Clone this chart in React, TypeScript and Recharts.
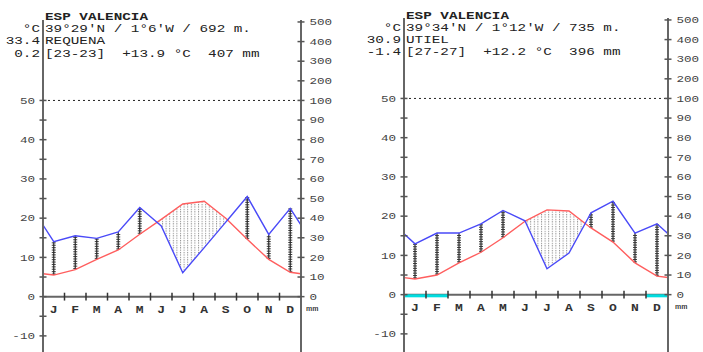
import React from 'react';
import { ComposedChart, Line, Area, XAxis, YAxis, ReferenceLine, Scatter } from 'recharts';

const months = ['J', 'F', 'M', 'A', 'M', 'J', 'J', 'A', 'S', 'O', 'N', 'D'];
const monthBounds = [1, 2, 3, 4, 5, 6, 7, 8, 9, 10, 11];

const requenaTemp = [5.5, 6.9, 9.5, 11.9, 15.9, 19.7, 23.6, 24.3, 20.0, 14.6, 9.5, 6.2];
const requenaPrec = [28, 31, 29.7, 33, 45.4, 36, 12.2, 25, 38, 51, 31.7, 45];
const requenaFrost = [0, 0, 0, 0, 0, 0, 0, 0, 0, 0, 0, 0];
const requenaInfo = ['ESP VALENCIA', "39°29'N / 1°6'W / 692 m.", 'REQUENA', '[23-23]', '+13.9 °C', '407 mm'];
const requenaExtremes = ['°C', '33.4', '0.2'];

const utielTemp = [4.0, 5.0, 8.1, 10.8, 14.5, 18.7, 21.6, 21.3, 17.0, 13.4, 8.1, 4.7];
const utielPrec = [25.9, 31.4, 31.4, 36.1, 42.9, 37.6, 13.2, 21.2, 41.7, 47.6, 31.4, 36.1];
const utielFrost = [1, 1, 0, 0, 0, 0, 0, 0, 0, 0, 0, 1];
const utielInfo = ['ESP VALENCIA', "39°34'N / 1°12'W / 735 m.", 'UTIEL', '[27-27]', '+12.2 °C', '396 mm'];
const utielExtremes = ['°C', '30.9', '-1.4'];

const tempTicks = [-10, -5, 0, 5, 10, 15, 20, 25, 30, 35, 40, 45, 50];
const precTicksMm = [0, 10, 20, 30, 40, 50, 60, 70, 80, 90, 100, 200, 300, 400, 500];

const Y_DOMAIN: [number, number] = [-15, 70.5];

const mmToC = (mm: number) => (mm <= 100 ? mm / 2 : 50 + (mm - 100) / 20);
const cToMm = (c: number) => Math.round(c <= 50 ? c * 2 : 100 + (c - 50) * 20);

function buildSeries(temp: number[], prec: number[]) {
  const pc = prec.map(mmToC);
  const edgeT = (temp[11] + temp[0]) / 2;
  const edgeP = (pc[11] + pc[0]) / 2;
  const pts: { x: number; t: number; p: number }[] = [{ x: 0, t: edgeT, p: edgeP }];
  temp.forEach((t, i) => pts.push({ x: i + 0.5, t, p: pc[i] }));
  pts.push({ x: 12, t: edgeT, p: edgeP });
  const out: { x: number; t: number; p: number }[] = [];
  for (let i = 0; i < pts.length; i++) {
    out.push(pts[i]);
    if (i < pts.length - 1) {
      const a = pts[i];
      const b = pts[i + 1];
      const d1 = a.t - a.p;
      const d2 = b.t - b.p;
      if (d1 * d2 < 0) {
        const f = d1 / (d1 - d2);
        const xc = a.x + (b.x - a.x) * f;
        const vc = a.t + (b.t - a.t) * f;
        out.push({ x: xc, t: vc, p: vc });
      }
    }
  }
  return out.map((o) => ({ ...o, dry: o.t > o.p ? [o.p, o.t] : [o.t, o.t] }));
}

const FONT = '"Liberation Mono", "DejaVu Sans Mono", monospace';

const Ladder = (props: any) => {
  const { x1, y1, y2 } = props;
  const top = Math.min(y1, y2);
  const bot = Math.max(y1, y2);
  const rungs: React.ReactNode[] = [];
  for (let y = bot - 1; y > top + 0.5; y -= 2.4) {
    rungs.push(<line key={y} x1={x1 - 2} x2={x1 + 2} y1={y} y2={y} />);
  }
  return (
    <g stroke="#2a2a2a" strokeWidth={0.9}>
      <line x1={x1} x2={x1} y1={top} y2={bot} strokeWidth={1.2} />
      {rungs}
    </g>
  );
};

const LeftTick = (props: any) => {
  const { x, y, payload } = props;
  const v = payload.value;
  return (
    <g>
      <line x1={x - 3.5} x2={x + 3.5} y1={y} y2={y} stroke="#555" strokeWidth={1.5} />
      {v % 10 === 0 && (
        <text
          transform={`translate(${x - 8},${y}) scale(1.4,1)`}
          textAnchor="end"
          dy="0.36em"
          fontFamily={FONT}
          fontSize={9}
          fill="#444"
        >
          {v}
        </text>
      )}
    </g>
  );
};

const RightTick = (props: any) => {
  const { x, y, payload } = props;
  return (
    <g>
      <line x1={x - 3.5} x2={x + 3.5} y1={y} y2={y} stroke="#555" strokeWidth={1.5} />
      <text
        transform={`translate(${x + 8.5},${y}) scale(1.4,1)`}
        textAnchor="start"
        dy="0.36em"
        fontFamily={FONT}
        fontSize={9}
        fill="#444"
      >
        {cToMm(payload.value)}
      </text>
    </g>
  );
};

const MonthLabel = (props: any) => {
  const { cx, cy, payload } = props;
  return (
    <text
      transform={`translate(${cx},${cy + 12.5}) scale(1.3,1)`}
      textAnchor="middle"
      dy="0.36em"
      fontFamily={FONT}
      fontSize={10}
      fontWeight="bold"
      fill="#333"
    >
      {payload.m}
    </text>
  );
};

type PanelProps = {
  id: string;
  temp: number[];
  prec: number[];
  frost: number[];
  left: number;
  top: number;
  plotW: number;
};

const Panel = ({ id, temp, prec, frost, left, top, plotW }: PanelProps) => {
  const data = buildSeries(temp, prec);
  const pc = prec.map(mmToC);
  const monthPts = months.map((m, i) => ({ x: i + 0.5, y: 0, m }));
  const leftW = 43;
  const rightW = 49;
  return (
    <div style={{ position: 'absolute', left, top }}>
      <ComposedChart
        width={leftW + plotW + rightW}
        height={360}
        data={data}
        margin={{ top: 20, right: 0, bottom: 4.5, left: 0 }}
      >
        <defs>
          <pattern id={`dry-${id}`} patternUnits="userSpaceOnUse" width={3.6} height={2.4}>
            <rect x={0} y={0} width={1} height={1.2} fill="#8a8a8a" />
          </pattern>
        </defs>
        <XAxis dataKey="x" type="number" domain={[0, 12]} hide allowDataOverflow />
        <YAxis
          yAxisId="t"
          orientation="left"
          width={leftW}
          domain={Y_DOMAIN}
          ticks={tempTicks}
          interval={0}
          tickSize={0}
          tickMargin={0}
          tickLine={false}
          axisLine={{ stroke: '#666', strokeWidth: 2 }}
          tick={<LeftTick />}
          allowDataOverflow
          type="number"
        />
        <YAxis
          yAxisId="mm"
          orientation="right"
          width={rightW}
          domain={Y_DOMAIN}
          ticks={precTicksMm.map(mmToC)}
          interval={0}
          tickSize={0}
          tickMargin={0}
          tickLine={false}
          axisLine={{ stroke: '#666', strokeWidth: 2 }}
          tick={<RightTick />}
          allowDataOverflow
          type="number"
        />
        <Area
          yAxisId="t"
          dataKey="dry"
          type="linear"
          stroke="none"
          fill={`url(#dry-${id})`}
          fillOpacity={1}
          isAnimationActive={false}
          dot={false}
          activeDot={false}
        />
        {temp.map((t, i) =>
          pc[i] > t ? (
            <ReferenceLine
              key={`h${i}`}
              yAxisId="t"
              segment={[
                { x: i + 0.5, y: t },
                { x: i + 0.5, y: pc[i] },
              ]}
              shape={(p: any) => <Ladder {...p} />}
            />
          ) : null
        )}
        <ReferenceLine yAxisId="t" y={50} stroke="#222" strokeWidth={1} strokeDasharray="2 3" />
        <ReferenceLine yAxisId="t" y={0} stroke="#666" strokeWidth={2} />
        {frost.map((f, i) =>
          f ? (
            <ReferenceLine
              key={`f${i}`}
              yAxisId="t"
              segment={[
                { x: i, y: -0.3 },
                { x: i + 1, y: -0.3 },
              ]}
              stroke="#00dde0"
              strokeWidth={3}
            />
          ) : null
        )}
        {monthBounds.map((b) => (
          <ReferenceLine
            key={`b${b}`}
            yAxisId="t"
            segment={[
              { x: b, y: -1 },
              { x: b, y: 1 },
            ]}
            stroke="#333"
            strokeWidth={1.5}
          />
        ))}
        <Line
          yAxisId="t"
          dataKey="t"
          type="linear"
          stroke="#ff5e5e"
          strokeWidth={1.4}
          dot={false}
          activeDot={false}
          isAnimationActive={false}
        />
        <Line
          yAxisId="t"
          dataKey="p"
          type="linear"
          stroke="#4a4af8"
          strokeWidth={1.4}
          dot={false}
          activeDot={false}
          isAnimationActive={false}
        />
        <Scatter
          yAxisId="t"
          data={monthPts}
          dataKey="y"
          shape={(p: any) => <MonthLabel {...p} />}
          isAnimationActive={false}
        />
      </ComposedChart>
    </div>
  );
};

const txt: React.CSSProperties = {
  position: 'absolute',
  fontFamily: FONT,
  fontSize: 10,
  lineHeight: '12.2px',
  whiteSpace: 'pre',
  color: '#222',
};

const Header = ({ axisX, info, ext, top }: { axisX: number; info: string[]; ext: string[]; top: number }) => (
  <>
    <div style={{ ...txt, left: axisX + 2.3, top, fontWeight: 'bold', transform: 'scale(1.43,1)', transformOrigin: 'left' }}>
      {info[0]}
    </div>
    <div style={{ ...txt, left: axisX + 2.3, top: top + 12.2, transform: 'scale(1.43,1)', transformOrigin: 'left' }}>
      {info[1]}
    </div>
    <div style={{ ...txt, left: axisX + 2.3, top: top + 24.4, transform: 'scale(1.43,1)', transformOrigin: 'left' }}>
      {info[2]}
    </div>
    <div style={{ ...txt, left: axisX + 2.3, top: top + 36.6, transform: 'scale(1.43,1)', transformOrigin: 'left' }}>
      {info[3] + '  ' + info[4] + '  ' + info[5]}
    </div>
    {ext.map((e, i) => (
      <div
        key={i}
        style={{
          ...txt,
          right: 703 - (axisX - 3),
          top: top + 12.2 * (i + 1),
          textAlign: 'right',
          transform: 'scale(1.43,1)',
          transformOrigin: 'right',
        }}
      >
        {e}
      </div>
    ))}
  </>
);

export default function App() {
  return (
    <div
      style={{
        position: 'absolute',
        left: 0,
        top: 0,
        width: 703,
        height: 352,
        overflow: 'hidden',
        background: '#fff',
      }}
    >
      <Panel id="l" temp={requenaTemp} prec={requenaPrec} frost={requenaFrost} left={0} top={0} plotW={258} />
      <Panel id="r" temp={utielTemp} prec={utielPrec} frost={utielFrost} left={361} top={-2} plotW={264} />
      <Header axisX={43} info={requenaInfo} ext={requenaExtremes} top={12} />
      <Header axisX={404} info={utielInfo} ext={utielExtremes} top={10.5} />
      <div style={{ ...txt, left: 306, top: 303, fontSize: 8, transform: 'scale(1.3,1)', transformOrigin: 'left' }}>mm</div>
      <div style={{ ...txt, left: 675, top: 301, fontSize: 8, transform: 'scale(1.3,1)', transformOrigin: 'left' }}>mm</div>
    </div>
  );
}
